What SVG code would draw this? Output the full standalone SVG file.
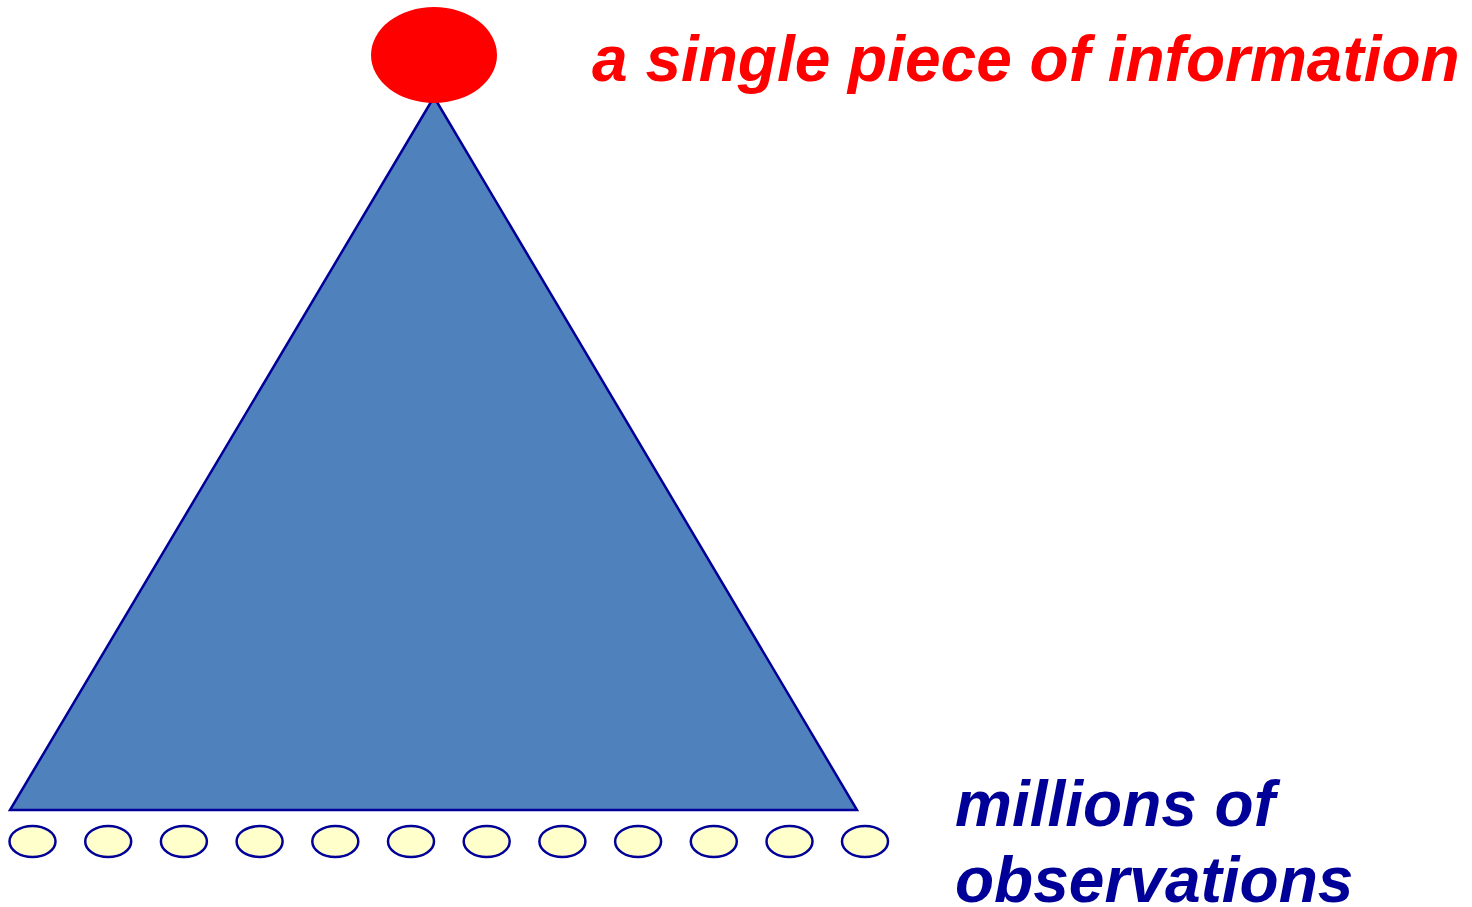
<svg xmlns="http://www.w3.org/2000/svg" width="1472" height="907" viewBox="0 0 1472 907">
<style>
.obs{fill:#FFFFCC;stroke:#000099;stroke-width:2.5}
.lbl{font-family:"Liberation Sans",Arial,sans-serif;font-weight:bold;font-style:italic;font-size:64px}
</style>
<rect width="1472" height="907" fill="#fff"/>
<g id="pyramid">
<polygon points="434,97 10,810 857,810" fill="#4F81BD" stroke="#000099" stroke-width="2.5" stroke-linejoin="miter"/>
</g>
<g id="top">
<ellipse cx="434" cy="55" rx="63" ry="48" fill="#FF0000"/>
</g>
<g id="observations">
<ellipse class="obs" cx="32.5" cy="841.5" rx="23" ry="15.5"/>
<ellipse class="obs" cx="108.2" cy="841.5" rx="23" ry="15.5"/>
<ellipse class="obs" cx="183.9" cy="841.5" rx="23" ry="15.5"/>
<ellipse class="obs" cx="259.6" cy="841.5" rx="23" ry="15.5"/>
<ellipse class="obs" cx="335.3" cy="841.5" rx="23" ry="15.5"/>
<ellipse class="obs" cx="411" cy="841.5" rx="23" ry="15.5"/>
<ellipse class="obs" cx="486.7" cy="841.5" rx="23" ry="15.5"/>
<ellipse class="obs" cx="562.4" cy="841.5" rx="23" ry="15.5"/>
<ellipse class="obs" cx="638.1" cy="841.5" rx="23" ry="15.5"/>
<ellipse class="obs" cx="713.8" cy="841.5" rx="23" ry="15.5"/>
<ellipse class="obs" cx="789.5" cy="841.5" rx="23" ry="15.5"/>
<ellipse class="obs" cx="865" cy="841.5" rx="23" ry="15.5"/>
</g>
<g id="label-top">
<text class="lbl" x="592" y="81" fill="#FF0000">a single piece of information</text>
</g>
<g id="label-bottom">
<text class="lbl" x="955" y="826" fill="#000099">millions of</text>
<text class="lbl" x="955" y="902" fill="#000099">observations</text>
</g>
</svg>
